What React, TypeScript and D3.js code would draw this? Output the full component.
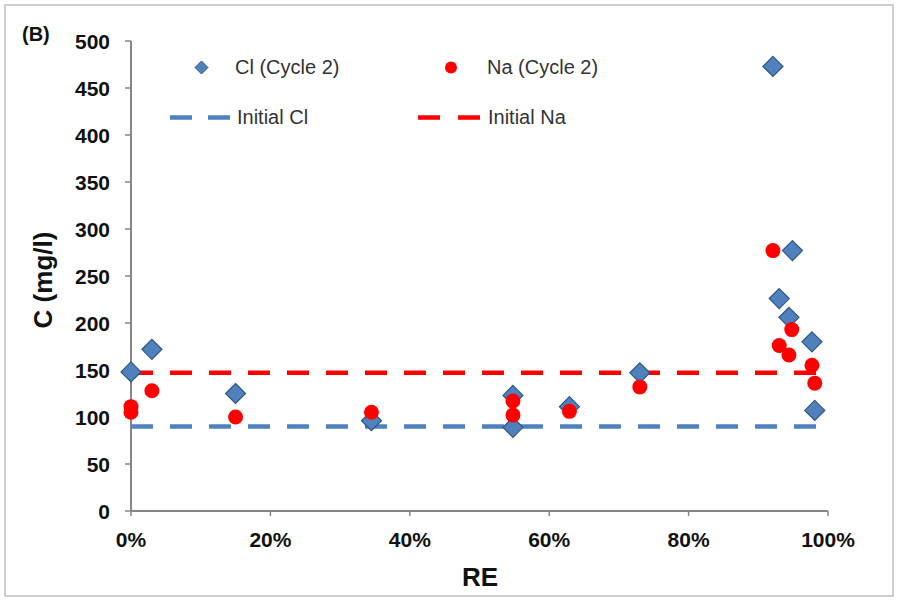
import React from "react";
import * as d3 from "d3";

const clRE = [0, 3, 15, 34.5, 54.8, 54.8, 62.9, 73, 92.1, 94.9, 93, 94.4, 97.7, 98.1];
const clC = [148, 172, 125, 96, 123, 89, 111, 147, 473, 277, 226, 206, 180, 107];
const naRE = [0, 0, 3, 15, 34.5, 54.8, 54.8, 62.9, 73, 92.1, 94.8, 93, 94.4, 97.7, 98.1];
const naC = [111, 105, 128, 100, 105, 117, 102, 106, 132, 277, 193, 176, 166, 155, 136];
const initialCl = 90;
const initialNa = 147;
const xTicks = [0, 20, 40, 60, 80, 100];
const yTicks = [0, 50, 100, 150, 200, 250, 300, 350, 400, 450, 500];

const BLUE = "#4F81BD";
const BLUE_DARK = "#2F5483";
const RED = "#FF0000";
const FONT = "Liberation Sans, Arial, sans-serif";

export default function App() {
  const W = 909, H = 604;
  const x = d3.scaleLinear().domain([0, 100]).range([131, 828]);
  const y = d3.scaleLinear().domain([0, 500]).range([511, 41]);
  const diamond = (s: number) => {
    const p = d3.path();
    p.moveTo(0, -s); p.lineTo(s, 0); p.lineTo(0, s); p.lineTo(-s, 0); p.closePath();
    return p.toString();
  };
  const hLine = (v: number) =>
    d3.line<number>().x((d) => x(d)).y(() => y(v))([0, 100]) || "";

  return (
    <svg width={W} height={H} style={{ position: "absolute", left: 0, top: 0, background: "#fff" }}>
      <rect x={5} y={5} width={888} height={591} fill="#fff" stroke="#bdbdbd" strokeWidth={1.5} />
      <text x={22} y={41} fontFamily={FONT} fontWeight="bold" fontSize={20} fill="#111">(B)</text>

      {/* axes */}
      <line x1={x(0)} x2={x(0)} y1={y(500)} y2={y(0)} stroke="#868686" strokeWidth={2} />
      <line x1={x(0)} x2={x(100)} y1={y(0)} y2={y(0)} stroke="#868686" strokeWidth={2} />
      {yTicks.map((t) => (
        <g key={"y" + t}>
          <line x1={x(0) - 6} x2={x(0)} y1={y(t)} y2={y(t)} stroke="#868686" strokeWidth={1.5} />
          <text x={110} y={y(t)} dy="0.36em" textAnchor="end" fontFamily={FONT} fontWeight="bold" fontSize={21} fill="#111">{t}</text>
        </g>
      ))}
      {xTicks.map((t) => (
        <g key={"x" + t}>
          <line x1={x(t)} x2={x(t)} y1={y(0)} y2={y(0) + 5} stroke="#868686" strokeWidth={1.5} />
          <text x={x(t)} y={547} textAnchor="middle" fontFamily={FONT} fontWeight="bold" fontSize={21} fill="#111">{t + "%"}</text>
        </g>
      ))}
      <text x={480} y={586} textAnchor="middle" fontFamily={FONT} fontWeight="bold" fontSize={26} fill="#111">RE</text>
      <text transform={`translate(52,${y(250) + 4}) rotate(-90)`} textAnchor="middle" fontFamily={FONT} fontWeight="bold" fontSize={26} fill="#111">C (mg/l)</text>

      {/* initial lines */}
      <path d={hLine(initialCl)} stroke={BLUE} strokeWidth={4.5} strokeDasharray="22 17" fill="none" />
      <path d={hLine(initialNa)} stroke={RED} strokeWidth={4.5} strokeDasharray="22 17" fill="none" />

      {/* points */}
      {clRE.map((r, i) => (
        <path key={"c" + i} d={diamond(10)} transform={`translate(${x(r)},${y(clC[i])})`} fill={BLUE} stroke={BLUE_DARK} strokeWidth={1.2} />
      ))}
      {naRE.map((r, i) => (
        <circle key={"n" + i} cx={x(r)} cy={y(naC[i])} r={7.5} fill={RED} />
      ))}

      {/* legend */}
      <path d={diamond(6.5)} transform="translate(201.5,67.5)" fill={BLUE} stroke={BLUE_DARK} strokeWidth={1} />
      <text x={235} y={74} fontFamily={FONT} fontSize={20} fill="#333">Cl (Cycle 2)</text>
      <circle cx={451} cy={67.5} r={6} fill={RED} />
      <text x={487} y={74} fontFamily={FONT} fontSize={20} fill="#333">Na (Cycle 2)</text>
      <line x1={170} x2={230} y1={117.5} y2={117.5} stroke={BLUE} strokeWidth={4.5} strokeDasharray="22 16" />
      <text x={237} y={124} fontFamily={FONT} fontSize={20} fill="#333">Initial Cl</text>
      <line x1={418} x2={480} y1={117.5} y2={117.5} stroke={RED} strokeWidth={4.5} strokeDasharray="22 18" />
      <text x={488} y={124} fontFamily={FONT} fontSize={20} fill="#333">Initial Na</text>
    </svg>
  );
}
